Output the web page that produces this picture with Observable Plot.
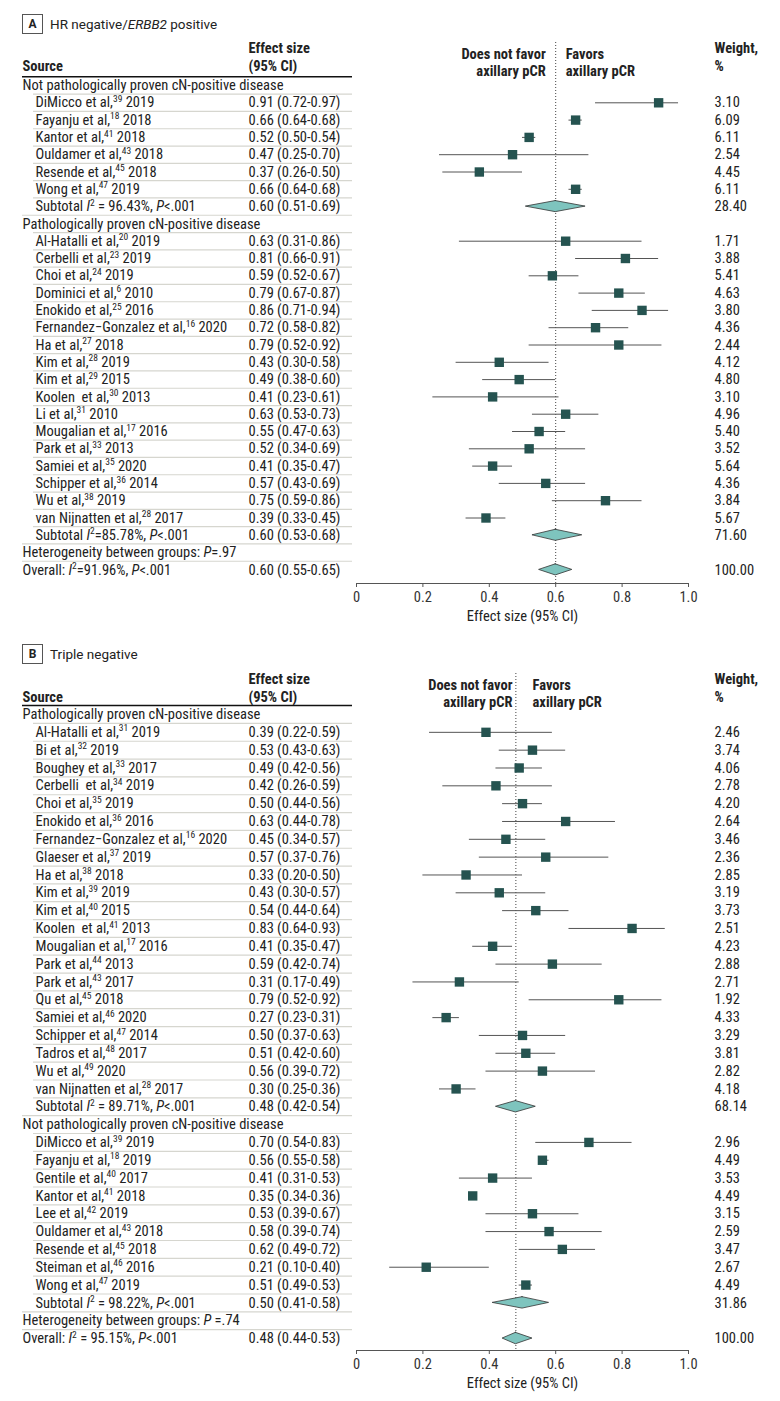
<!DOCTYPE html>
<html>
<head>
<meta charset="utf-8">
<script src="https://cdn.jsdelivr.net/npm/d3@7"></script>
<script src="https://cdn.jsdelivr.net/npm/@observablehq/plot@0.6"></script>
<style>
  body { margin: 0; background: #fff; font-family: Roboto, "Liberation Sans", Arial, sans-serif; color: #222; }
  #wrap { position: relative; width: 780px; height: 1401px; overflow: hidden; }
  .ttl { position: absolute; left: 22px; height: 20px; display: flex; align-items: center; font-size: 13.5px; color: #222; }
  .box { width: 21px; height: 20px; border: 1px solid #555; box-sizing: border-box; display: flex; align-items: center; justify-content: center; font-weight: bold; font-size: 12px; margin-right: 7px; }
  .panel { position: absolute; left: 0; }
</style>
</head>
<body>
<div id="wrap">
  <div class="ttl" style="top:14px"><div class="box">A</div><span>HR negative/<i>ERBB2</i> positive</span></div>
  <div class="panel" id="panelA" style="top:40px"></div>
  <div class="ttl" style="top:644px"><div class="box">B</div><span>Triple negative</span></div>
  <div class="panel" id="panelB" style="top:672px"></div>
</div>
<script>
// ---------------- Panel A: HR negative / ERBB2 positive ----------------
const aSource = [
  "Not pathologically proven cN-positive disease",
  "DiMicco et al,^39^ 2019",
  "Fayanju et al,^18^ 2018",
  "Kantor et al,^41^ 2018",
  "Ouldamer et al,^43^ 2018",
  "Resende et al,^45^ 2018",
  "Wong et al,^47^ 2019",
  "Subtotal *I*^2^ = 96.43%, *P*<.001",
  "Pathologically proven cN-positive disease",
  "Al-Hatalli et al,^20^ 2019",
  "Cerbelli et al,^23^ 2019",
  "Choi et al,^24^ 2019",
  "Dominici et al,^6^ 2010",
  "Enokido et al,^25^ 2016",
  "Fernandez\u2212Gonzalez et al,^16^ 2020",
  "Ha et al,^27^ 2018",
  "Kim et al,^28^ 2019",
  "Kim et al,^29^ 2015",
  "Koolen  et al,^30^ 2013",
  "Li et al,^31^ 2010",
  "Mougalian et al,^17^ 2016",
  "Park et al,^33^ 2013",
  "Samiei et al,^35^ 2020",
  "Schipper et al,^36^ 2014",
  "Wu et al,^38^ 2019",
  "van Nijnatten et al,^28^ 2017",
  "Subtotal *I*^2^=85.78%, *P*<.001",
  "Heterogeneity between groups: *P*=.97",
  "Overall: *I*^2^=91.96%, *P*<.001"
];
const aKind = ["group","study","study","study","study","study","study","subtotal",
  "group","study","study","study","study","study","study","study","study","study","study",
  "study","study","study","study","study","study","study","subtotal","het","overall"];
const aEst  = [null,0.91,0.66,0.52,0.47,0.37,0.66,0.60,null,0.63,0.81,0.59,0.79,0.86,0.72,0.79,0.43,0.49,0.41,0.63,0.55,0.52,0.41,0.57,0.75,0.39,0.60,null,0.60];
const aLow  = [null,0.72,0.64,0.50,0.25,0.26,0.64,0.51,null,0.31,0.66,0.52,0.67,0.71,0.58,0.52,0.30,0.38,0.23,0.53,0.47,0.34,0.35,0.43,0.59,0.33,0.53,null,0.55];
const aHigh = [null,0.97,0.68,0.54,0.70,0.50,0.68,0.69,null,0.86,0.91,0.67,0.87,0.94,0.82,0.92,0.58,0.60,0.61,0.73,0.63,0.69,0.47,0.69,0.86,0.45,0.68,null,0.65];
const aWeight = [null,"3.10","6.09","6.11","2.54","4.45","6.11","28.40",null,"1.71","3.88","5.41","4.63","3.80","4.36","2.44","4.12","4.80","3.10","4.96","5.40","3.52","5.64","4.36","3.84","5.67","71.60",null,"100.00"];

// ---------------- Panel B: Triple negative ----------------
const bSource = [
  "Pathologically proven cN-positive disease",
  "Al-Hatalli et al,^31^ 2019",
  "Bi et al,^32^ 2019",
  "Boughey et al,^33^ 2017",
  "Cerbelli  et al,^34^ 2019",
  "Choi et al,^35^ 2019",
  "Enokido et al,^36^ 2016",
  "Fernandez\u2212Gonzalez et al,^16^ 2020",
  "Glaeser et al,^37^ 2019",
  "Ha et al,^38^ 2018",
  "Kim et al,^39^ 2019",
  "Kim et al,^40^ 2015",
  "Koolen  et al,^41^ 2013",
  "Mougalian et al,^17^ 2016",
  "Park et al,^44^ 2013",
  "Park et al,^43^ 2017",
  "Qu et al,^45^ 2018",
  "Samiei et al,^46^ 2020",
  "Schipper et al,^47^ 2014",
  "Tadros et al,^48^ 2017",
  "Wu et al,^49^ 2020",
  "van Nijnatten et al,^28^ 2017",
  "Subtotal *I*^2^ = 89.71%, *P*<.001",
  "Not pathologically proven cN-positive disease",
  "DiMicco et al,^39^ 2019",
  "Fayanju et al,^18^ 2019",
  "Gentile et al,^40^ 2017",
  "Kantor et al,^41^ 2018",
  "Lee et al,^42^ 2019",
  "Ouldamer et al,^43^ 2018",
  "Resende et al,^45^ 2018",
  "Steiman et al,^46^ 2016",
  "Wong et al,^47^ 2019",
  "Subtotal *I*^2^ = 98.22%, *P*<.001",
  "Heterogeneity between groups: *P* =.74",
  "Overall: *I*^2^ = 95.15%, *P*<.001"
];
const bKind = ["group",
  "study","study","study","study","study","study","study","study","study","study","study",
  "study","study","study","study","study","study","study","study","study","study","subtotal",
  "group","study","study","study","study","study","study","study","study","study","subtotal","het","overall"];
const bEst  = [null,0.39,0.53,0.49,0.42,0.50,0.63,0.45,0.57,0.33,0.43,0.54,0.83,0.41,0.59,0.31,0.79,0.27,0.50,0.51,0.56,0.30,0.48,null,0.70,0.56,0.41,0.35,0.53,0.58,0.62,0.21,0.51,0.50,null,0.48];
const bLow  = [null,0.22,0.43,0.42,0.26,0.44,0.44,0.34,0.37,0.20,0.30,0.44,0.64,0.35,0.42,0.17,0.52,0.23,0.37,0.42,0.39,0.25,0.42,null,0.54,0.55,0.31,0.34,0.39,0.39,0.49,0.10,0.49,0.41,null,0.44];
const bHigh = [null,0.59,0.63,0.56,0.59,0.56,0.78,0.57,0.76,0.50,0.57,0.64,0.93,0.47,0.74,0.49,0.92,0.31,0.63,0.60,0.72,0.36,0.54,null,0.83,0.58,0.53,0.36,0.67,0.74,0.72,0.40,0.53,0.58,null,0.53];
const bWeight = [null,"2.46","3.74","4.06","2.78","4.20","2.64","3.46","2.36","2.85","3.19","3.73","2.51","4.23","2.88","2.71","1.92","4.33","3.29","3.81","2.82","4.18","68.14",null,"2.96","4.49","3.53","4.49","3.15","2.59","3.47","2.67","4.49","31.86",null,"100.00"];

// axis
const xTicks = [0, 0.2, 0.4, 0.6, 0.8, 1.0];
const xTitle = "Effect size (95% CI)";

// ---------------- styling ----------------
const FONT = '"Roboto Condensed", Roboto, "Liberation Sans", sans-serif';
const FS = 14.5;
const SQUARE = "#255350";
const DIAMOND = "#7ec4be";
const SEP = "#d6d6cf";
const HALF = 0.32; // diamond half-height in row units

function fmt(d) { return `${d.est.toFixed(2)} (${d.lo.toFixed(2)}-${d.hi.toFixed(2)})`; }

function richify(svg) {
  const NS = "http://www.w3.org/2000/svg";
  svg.querySelectorAll("text").forEach(t => {
    const s = t.textContent;
    if (!/[\^*]/.test(s)) return;
    t.textContent = "";
    let shift = 0;
    for (const part of s.split(/(\^[^^]*\^|\*[^*]*\*)/)) {
      if (!part) continue;
      const ts = document.createElementNS(NS, "tspan");
      if (part[0] === "^") {
        ts.textContent = part.slice(1, -1);
        ts.setAttribute("font-size", "9.5");
        ts.setAttribute("dy", -5.5);
        shift = 5.5;
      } else {
        if (part[0] === "*") { ts.textContent = part.slice(1, -1); ts.setAttribute("font-style", "italic"); }
        else ts.textContent = part;
        if (shift) { ts.setAttribute("dy", shift); shift = 0; }
      }
      t.appendChild(ts);
    }
  });
}

function forest(cfg) {
  const rows = cfg.source.map((s, i) => ({
    i, source: s, kind: cfg.kind[i], est: cfg.est[i], lo: cfg.lo[i], hi: cfg.hi[i], w: cfg.weight[i]
  }));
  const indented = d => d.kind === "study" || d.kind === "subtotal";
  const studies = rows.filter(d => d.kind === "study");
  const pooled = rows.filter(d => d.kind === "subtotal" || d.kind === "overall");
  const overall = rows.find(d => d.kind === "overall");
  const diamonds = pooled.flatMap(d => [
    {g: d.i, y: d.i - HALF, x1: d.est, x2: d.est},
    {g: d.i, y: d.i, x1: d.lo, x2: d.hi},
    {g: d.i, y: d.i + HALF, x1: d.est, x2: d.est}
  ]);
  const n = rows.length;
  const hdr = (txt, opts) => Plot.text([txt], {text: d => d, fontWeight: "bold", lineAnchor: "middle", ...opts});

  const svg = Plot.plot({
    width: 780,
    height: cfg.height,
    marginLeft: 0, marginRight: 0, marginTop: cfg.marginTop, marginBottom: cfg.marginBottom,
    x: {domain: [0, 1], range: [356, 688], axis: null},
    y: {domain: [0, n - 1], range: [cfg.top, cfg.top + (n - 1) * cfg.step], axis: null},
    style: {fontFamily: FONT, fontSize: FS + "px", color: "#222", background: "white", overflow: "visible"},
    marks: [
      // table separators
      Plot.ruleY(rows.filter(d => d.i > 0 && indented(d)), {y: d => d.i - 0.5, insetLeft: 33, insetRight: 428, stroke: SEP, strokeWidth: 1.2}),
      Plot.ruleY(rows.filter(d => d.i > 0 && !indented(d)), {y: d => d.i - 0.5, insetLeft: 22, insetRight: 428, stroke: SEP, strokeWidth: 1.2}),
      Plot.ruleY(rows.slice(0, 1), {y: d => d.i - 0.5, insetLeft: 22, insetRight: 428, stroke: "#111", strokeWidth: 1.5}),
      // headers
      hdr("Effect size", {frameAnchor: "top-left", dx: 248, dy: 6.3, textAnchor: "start"}),
      hdr("(95% CI)", {frameAnchor: "top-left", dx: 248, dy: 23.7, textAnchor: "start"}),
      hdr("Source", {frameAnchor: "top-left", dx: 22, dy: 23.7, textAnchor: "start"}),
      hdr("Weight,", {frameAnchor: "top-right", dx: -66, dy: 6.3, textAnchor: "start"}),
      hdr("%", {frameAnchor: "top-right", dx: -66, dy: 23.7, textAnchor: "start"}),
      Plot.text([cfg.split], {x: d => d, text: () => "Does not favor", frameAnchor: "top", dy: 6.3, dx: -10, textAnchor: "end", fontWeight: "bold"}),
      Plot.text([cfg.split], {x: d => d, text: () => "axillary pCR", frameAnchor: "top", dy: 23.7, dx: -10, textAnchor: "end", fontWeight: "bold"}),
      Plot.text([cfg.split], {x: d => d, text: () => "Favors", frameAnchor: "top", dy: 6.3, dx: 10, textAnchor: "start", fontWeight: "bold"}),
      Plot.text([cfg.split], {x: d => d, text: () => "axillary pCR", frameAnchor: "top", dy: 23.7, dx: 10, textAnchor: "start", fontWeight: "bold"}),
      // table text
      Plot.text(rows.filter(indented), {y: "i", text: "source", frameAnchor: "left", dx: 35, textAnchor: "start"}),
      Plot.text(rows.filter(d => !indented(d)), {y: "i", text: "source", frameAnchor: "left", dx: 22, textAnchor: "start"}),
      Plot.text(rows.filter(d => d.est != null), {y: "i", text: fmt, frameAnchor: "left", dx: 248, textAnchor: "start"}),
      Plot.text(rows.filter(d => d.w != null), {y: "i", text: "w", frameAnchor: "right", dx: -66, textAnchor: "start"}),
      // reference line at overall estimate
      Plot.ruleX([overall], {x: "est", stroke: "#444", strokeWidth: 1, strokeDasharray: "1,2"}),
      // CIs and point estimates
      Plot.ruleY(studies, {y: "i", x1: "lo", x2: "hi", stroke: "#555", strokeWidth: 1}),
      Plot.dot(studies, {x: "est", y: "i", symbol: "square", r: 5.3, fill: SQUARE, stroke: null}),
      Plot.areaX(diamonds, {y: "y", x1: "x1", x2: "x2", z: "g", fill: DIAMOND, stroke: "#333", strokeWidth: 0.8, curve: "linear"}),
      // axis
      Plot.frame({anchor: "bottom", insetLeft: 356, insetRight: 92, stroke: "#555"}),
      Plot.axisX({ticks: xTicks, tickFormat: d => d === 0 ? "0" : d.toFixed(1), tickSize: 4, tickPadding: 4, color: "#333", stroke: "#555"}),
      Plot.text([0.5], {x: d => d, text: () => xTitle, frameAnchor: "bottom", dy: 33, lineAnchor: "middle"})
    ]
  });
  richify(svg);
  return svg;
}

document.getElementById("panelA").appendChild(forest({
  source: aSource, kind: aKind, est: aEst, lo: aLow, hi: aHigh, weight: aWeight,
  height: 600, marginTop: 2, marginBottom: 57, top: 45, step: 17.3, split: 0.6
}));
document.getElementById("panelB").appendChild(forest({
  source: bSource, kind: bKind, est: bEst, lo: bLow, hi: bHigh, weight: bWeight,
  height: 729, marginTop: 1, marginBottom: 51, top: 42, step: 17.83, split: 0.5
}));
</script>
</body>
</html>
